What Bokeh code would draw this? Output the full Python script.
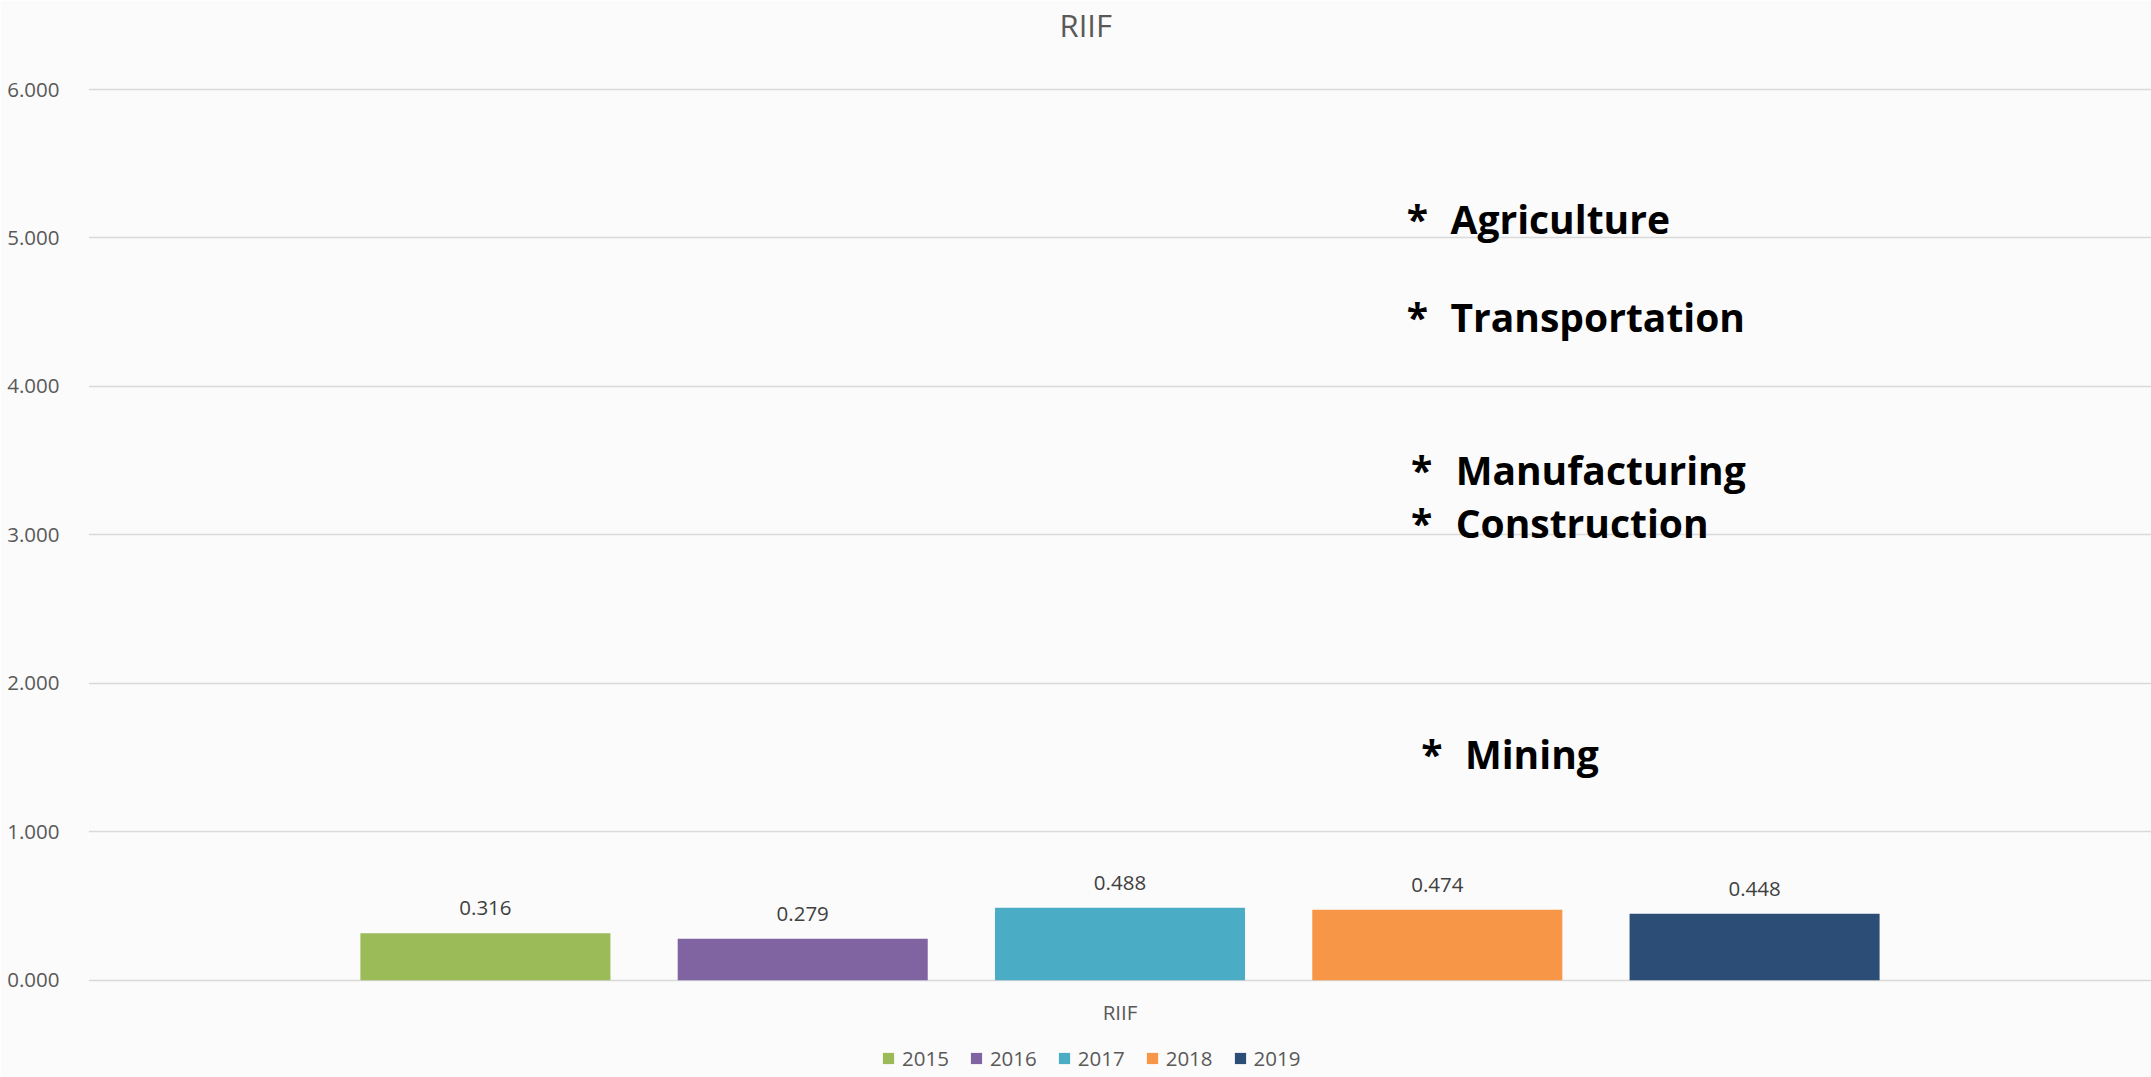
from bokeh.plotting import figure
from bokeh.models import ColumnDataSource, Range1d, FixedTicker, NumeralTickFormatter, Legend, LegendItem
from bokeh.core.properties import value
from bokeh.embed import file_html
from bokeh.resources import INLINE

# ---------------- data ----------------
categories = ["RIIF"]
years = ["2015", "2016", "2017", "2018", "2019"]
riif_values = [0.316, 0.279, 0.488, 0.474, 0.448]
y_ticks = [0, 1, 2, 3, 4, 5, 6]
sectors = ["Agriculture", "Transportation", "Manufacturing", "Construction", "Mining"]
sector_levels = [5.13, 4.47, 3.44, 3.085, 1.528]

# ---------------- styles / layout ----------------
colors = ["#9BBB59", "#8064A2", "#4BACC6", "#F79646", "#2C4D75"]
FONT = "Open Sans"
GREY = "#595959"
BG = "#fbfbfb"

cat_center = 0.5
step = 0.1538
bar_w = 0.1212
n = len(years)
xs = [cat_center + (i - (n - 1) / 2) * step for i in range(n)]

src = ColumnDataSource(dict(x=xs, top=riif_values, year=years, color=colors,
                            label=["%.3f" % v for v in riif_values]))

p = figure(width=2151, height=1077, output_backend="svg", toolbar_location=None,
           x_range=Range1d(0, 1), y_range=Range1d(-0.656, 6.283),
           min_border_left=88, min_border_right=0, min_border_top=0, min_border_bottom=0,
           background_fill_color=BG, border_fill_color=BG, outline_line_color=None)

# title
p.title.text = "RIIF"
p.title.align = "left"
p.title.offset = 971
p.title.standoff = 3
p.title.text_font = FONT
p.title.text_font_size = "31px"
p.title.text_font_style = "normal"
p.title.text_color = GREY

# bars
bars = p.vbar(x="x", top="top", width=bar_w, bottom=0, color="color", source=src,
              line_color=None)

# data labels
p.text(x="x", y="top", text="label", source=src, text_align="center",
       text_baseline="alphabetic", y_offset=-25, text_font=value(FONT),
       text_font_size="20.5px", text_color="#404040")

# y axis
p.yaxis.ticker = FixedTicker(ticks=y_ticks)
p.yaxis.formatter = NumeralTickFormatter(format="0.000")
p.yaxis.axis_line_color = None
p.yaxis.major_tick_line_color = None
p.yaxis.minor_tick_line_color = None
p.yaxis.major_label_standoff = 23
p.yaxis.major_label_text_font = FONT
p.yaxis.major_label_text_font_size = "20.5px"
p.yaxis.major_label_text_color = GREY

p.ygrid.ticker = FixedTicker(ticks=y_ticks)
p.ygrid.grid_line_color = "#d9d9d9"
p.ygrid.grid_line_width = 1.6
p.xgrid.grid_line_color = None

# x axis (category)
p.xaxis.fixed_location = 0
p.xaxis.ticker = FixedTicker(ticks=[cat_center])
p.xaxis.major_label_overrides = {cat_center: categories[0]}
p.xaxis.axis_line_color = None
p.xaxis.major_tick_line_color = None
p.xaxis.minor_tick_line_color = None
p.xaxis.major_label_standoff = 12
p.xaxis.major_label_text_font = FONT
p.xaxis.major_label_text_font_size = "20.5px"
p.xaxis.major_label_text_color = GREY

# legend
items = [LegendItem(label=y, renderers=[bars], index=i) for i, y in enumerate(years)]
legend = Legend(items=items, orientation="horizontal", location=(793, 5),
                glyph_width=14, glyph_height=14, label_standoff=7, spacing=20,
                padding=0, margin=0, border_line_color=None, background_fill_alpha=0,
                label_text_font=FONT, label_text_font_size="20.5px", label_text_color=GREY)
p.add_layout(legend)

# sector annotations
star_x = [0.639, 0.639, 0.641, 0.641, 0.646]
name_x = [0.6602, 0.6602, 0.6627, 0.6627, 0.6672]
p.text(x=star_x, y=sector_levels, text=["*"] * len(sectors), text_font=value(FONT),
       text_font_size="39px", text_font_style="bold", text_color="black",
       text_baseline="alphabetic", text_align="left")
p.text(x=name_x, y=sector_levels, text=sectors, text_font=value(FONT),
       text_font_size="39px", text_font_style="bold", text_color="black",
       text_baseline="alphabetic", text_align="left")

open("out.html", "w").write(file_html(p, INLINE))
